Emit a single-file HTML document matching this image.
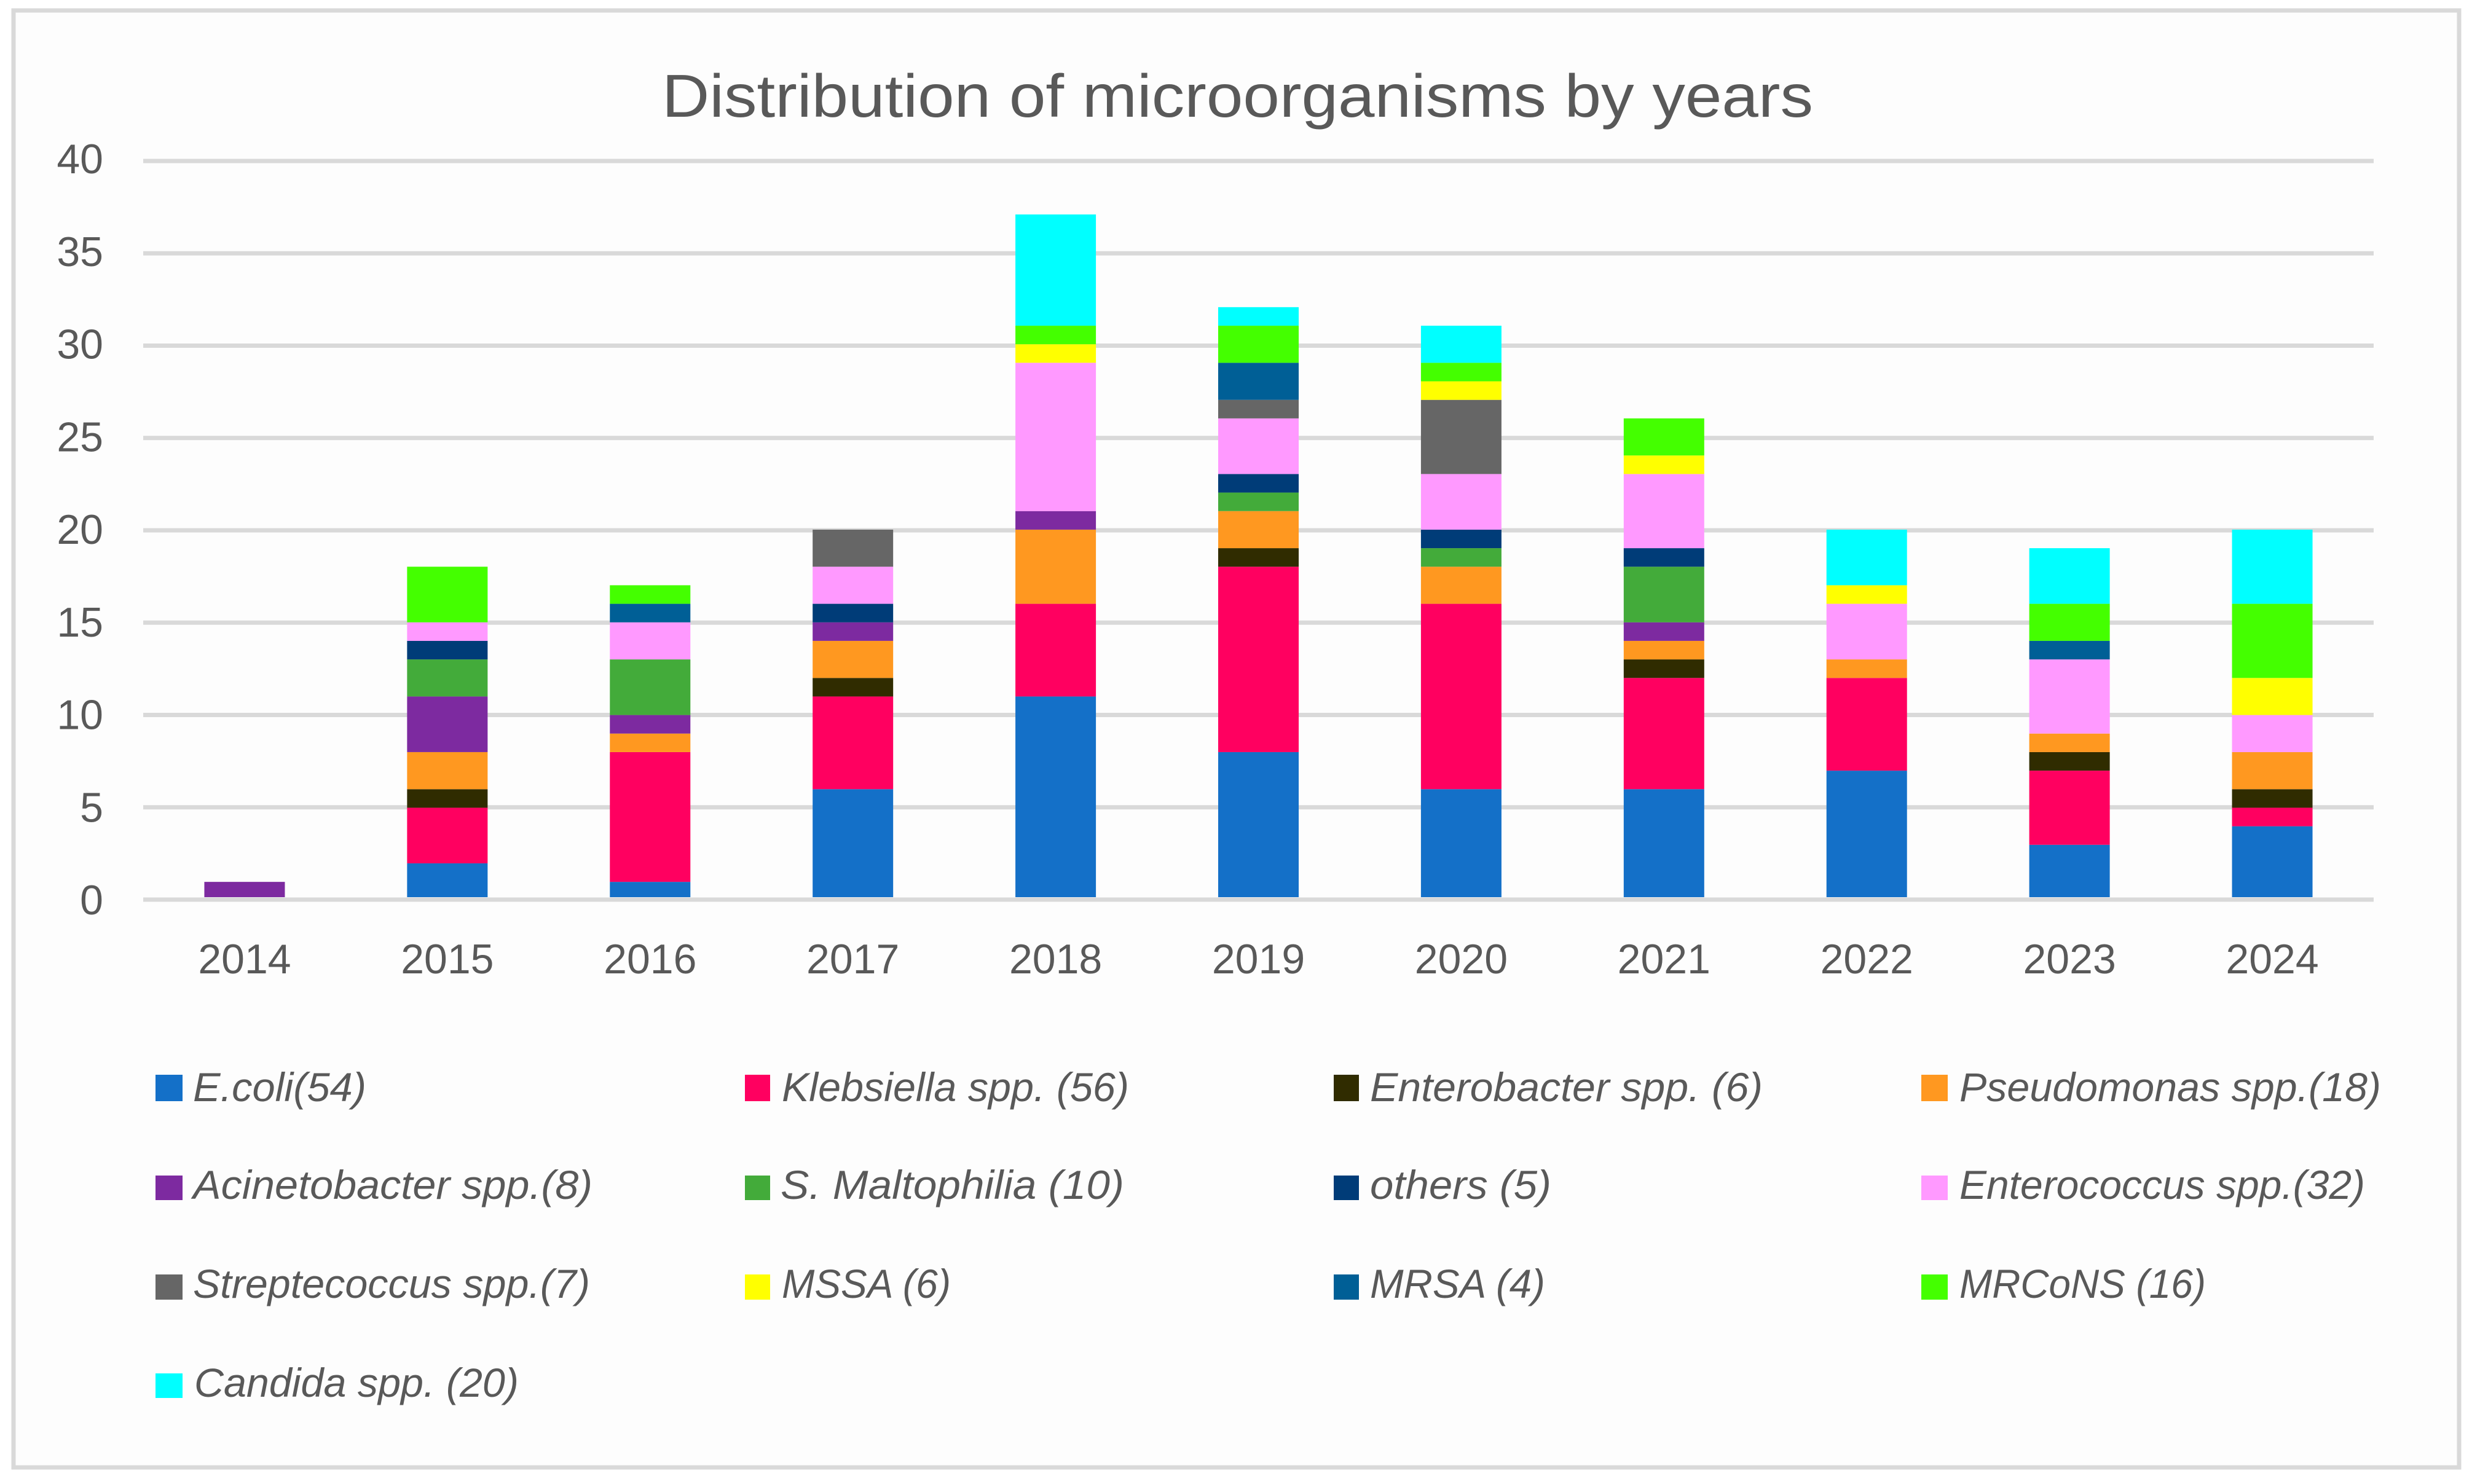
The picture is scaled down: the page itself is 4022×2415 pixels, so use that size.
<!DOCTYPE html>
<html lang="en">
<head>
<meta charset="utf-8">
<title>Distribution of microorganisms by years</title>
<style>
html,body{margin:0;padding:0;background:#fff;}
svg{display:block;}
text{font-family:"Liberation Sans",sans-serif;fill:#595959;}
.legend-text{font-style:italic;font-size:66px;}
.tick{font-size:68px;}
</style>
</head>
<body>
<svg id="chart" xmlns="http://www.w3.org/2000/svg" width="4022" height="2415" viewBox="0 0 4022 2415">
  <rect x="0" y="0" width="4022" height="2415" fill="#ffffff"/>
  <rect x="22" y="17" width="3979" height="2371" fill="#fdfdfd" stroke="#d9d9d9" stroke-width="7"/>
  <text x="1077" y="190" font-size="98" textLength="1873" lengthAdjust="spacingAndGlyphs">Distribution of microorganisms by years</text>
  <g id="grid"></g>
  <g id="bars"></g>
  <g id="yticks"></g>
  <g id="xticks"></g>

  <g>
    <g>
      <rect x="253" y="1749" width="44" height="43" fill="#1470c8"/>
      <text class="legend-text" x="314" y="1792" textLength="282" lengthAdjust="spacingAndGlyphs">E.coli(54)</text>
    </g>
    <g>
      <rect x="1212" y="1749" width="41" height="43" fill="#ff0060"/>
      <text class="legend-text" x="1272" y="1792" textLength="565" lengthAdjust="spacingAndGlyphs">Klebsiella spp. (56)</text>
    </g>
    <g>
      <rect x="2170" y="1749" width="41" height="43" fill="#302c00"/>
      <text class="legend-text" x="2229" y="1792" textLength="639" lengthAdjust="spacingAndGlyphs">Enterobacter spp. (6)</text>
    </g>
    <g>
      <rect x="3126" y="1749" width="43" height="43" fill="#ff9820"/>
      <text class="legend-text" x="3188" y="1792" textLength="686" lengthAdjust="spacingAndGlyphs">Pseudomonas spp.(18)</text>
    </g>

    <g>
      <rect x="253" y="1913" width="44" height="40" fill="#7d2aa0"/>
      <text class="legend-text" x="314" y="1951" textLength="650" lengthAdjust="spacingAndGlyphs">Acinetobacter spp.(8)</text>
    </g>
    <g>
      <rect x="1212" y="1913" width="41" height="40" fill="#43ab3a"/>
      <text class="legend-text" x="1270" y="1951" textLength="559" lengthAdjust="spacingAndGlyphs">S. Maltophilia (10)</text>
    </g>
    <g>
      <rect x="2170" y="1913" width="41" height="40" fill="#003c78"/>
      <text class="legend-text" x="2229" y="1951" textLength="295" lengthAdjust="spacingAndGlyphs">others (5)</text>
    </g>
    <g>
      <rect x="3126" y="1913" width="43" height="40" fill="#ff99ff"/>
      <text class="legend-text" x="3188" y="1951" textLength="660" lengthAdjust="spacingAndGlyphs">Enterococcus spp.(32)</text>
    </g>

    <g>
      <rect x="253" y="2074" width="44" height="41" fill="#666666"/>
      <text class="legend-text" x="314" y="2112" textLength="646" lengthAdjust="spacingAndGlyphs">Streptecoccus spp.(7)</text>
    </g>
    <g>
      <rect x="1212" y="2074" width="41" height="41" fill="#ffff00"/>
      <text class="legend-text" x="1272" y="2112" textLength="275" lengthAdjust="spacingAndGlyphs">MSSA (6)</text>
    </g>
    <g>
      <rect x="2170" y="2074" width="41" height="41" fill="#005f96"/>
      <text class="legend-text" x="2229" y="2112" textLength="285" lengthAdjust="spacingAndGlyphs">MRSA (4)</text>
    </g>
    <g>
      <rect x="3126" y="2074" width="43" height="41" fill="#44ff00"/>
      <text class="legend-text" x="3188" y="2112" textLength="401" lengthAdjust="spacingAndGlyphs">MRCoNS (16)</text>
    </g>

    <g>
      <rect x="253" y="2235" width="44" height="40" fill="#00ffff"/>
      <text class="legend-text" x="316" y="2273" textLength="528" lengthAdjust="spacingAndGlyphs">Candida spp. (20)</text>
    </g>
  </g>
</svg>

<script>
var years = ["2014","2015","2016","2017","2018","2019","2020","2021","2022","2023","2024"];
var yTickValues = [0,5,10,15,20,25,30,35,40];

var eColi         = [0,2,1,6,11,8,6,6,7,3,4];
var klebsiella    = [0,3,7,5,5,10,10,6,5,4,1];
var enterobacter  = [0,1,0,1,0,1,0,1,0,1,1];
var pseudomonas   = [0,2,1,2,4,2,2,1,1,1,2];
var acinetobacter = [1,3,1,1,1,0,0,1,0,0,0];
var sMaltophilia  = [0,2,3,0,0,1,1,3,0,0,0];
var others        = [0,1,0,1,0,1,1,1,0,0,0];
var enterococcus  = [0,1,2,2,8,3,3,4,3,4,2];
var streptecoccus = [0,0,0,2,0,1,4,0,0,0,0];
var mssa          = [0,0,0,0,1,0,1,1,1,0,2];
var mrsa          = [0,0,1,0,0,2,0,0,0,1,0];
var mrcons        = [0,3,1,0,1,2,1,2,0,2,4];
var candida       = [0,0,0,0,6,1,2,0,3,3,4];

var seriesValues = [eColi,klebsiella,enterobacter,pseudomonas,acinetobacter,sMaltophilia,others,enterococcus,streptecoccus,mssa,mrsa,mrcons,candida];
var seriesKeys = ["e-coli","klebsiella","enterobacter","pseudomonas","acinetobacter","s-maltophilia","others","enterococcus","streptecoccus","mssa","mrsa","mrcons","candida"];
var seriesColors = ["#1470c8","#ff0060","#302c00","#ff9820","#7d2aa0","#43ab3a","#003c78","#ff99ff","#666666","#ffff00","#005f96","#44ff00","#00ffff"];

var NS = "http://www.w3.org/2000/svg";
var plotLeft = 233, plotRight = 3862, bandWidth = (plotRight - plotLeft) / years.length, barWidth = 131;
function yScale(v) { return 1464 - 30.05 * v; }
function barY(v) { return Math.min(1460, 1465.3 - 30.17 * v); }
function labelY(v) { return 1488 - 30.15 * v; }
function xCenter(i) { return plotLeft + bandWidth * (i + 0.5); }

var gridG = document.getElementById("grid");
var yG = document.getElementById("yticks");
var xG = document.getElementById("xticks");
var barsG = document.getElementById("bars");

yTickValues.forEach(function (v) {
  var line = document.createElementNS(NS, "line");
  line.setAttribute("x1", plotLeft);
  line.setAttribute("x2", plotRight);
  line.setAttribute("y1", yScale(v));
  line.setAttribute("y2", yScale(v));
  line.setAttribute("stroke", "#d9d9d9");
  line.setAttribute("stroke-width", "7");
  
  
  gridG.appendChild(line);

  var label = document.createElementNS(NS, "text");
  label.setAttribute("class", "tick");
  label.setAttribute("x", 168);
  label.setAttribute("y", labelY(v));
  label.setAttribute("text-anchor", "end");
  label.textContent = String(v);
  
  
  yG.appendChild(label);
});

years.forEach(function (year, i) {
  var label = document.createElementNS(NS, "text");
  label.setAttribute("class", "tick");
  label.setAttribute("x", xCenter(i));
  label.setAttribute("y", 1584);
  label.setAttribute("text-anchor", "middle");
  label.textContent = year;
  
  
  xG.appendChild(label);

  var cumulative = 0;
  seriesValues.forEach(function (values, s) {
    var v = values[i];
    if (!v) return;
    var top = barY(cumulative + v);
    var bottom = barY(cumulative);
    var rect = document.createElementNS(NS, "rect");
    rect.setAttribute("x", xCenter(i) - barWidth / 2);
    rect.setAttribute("y", top);
    rect.setAttribute("width", barWidth);
    rect.setAttribute("height", bottom - top);
    rect.setAttribute("fill", seriesColors[s]);
    
    
    barsG.appendChild(rect);
    cumulative += v;
  });
});
</script>
</body>
</html>
